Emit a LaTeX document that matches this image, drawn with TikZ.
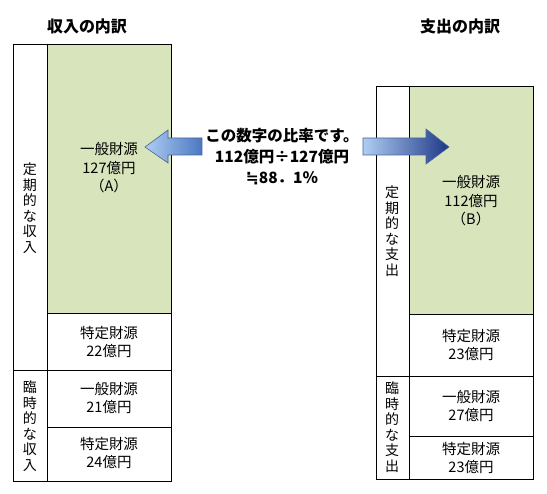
\documentclass[tikz,border=0pt]{standalone}
\usepackage{fontspec}
\setmainfont{Noto Sans CJK JP}
\newfontfamily\dejavufam{DejaVu Sans}
\definecolor{greenfill}{RGB}{216,228,188}
\definecolor{arrowedge}{RGB}{70,100,150}
\definecolor{lightblue}{RGB}{175,205,242}
\definecolor{midblue}{RGB}{75,120,195}
\definecolor{darkblue}{RGB}{30,55,135}
\begin{document}
\begin{tikzpicture}[x=1pt,y=-1pt,
  frame/.style={draw=black, line width=0.8pt},
  celltext/.style={font=\fontsize{14.5}{18.5}\selectfont, align=center, inner sep=0pt},
  vtext/.style={font=\fontsize{14}{15.5}\selectfont, align=center, inner sep=0pt},
  title/.style={font=\fontsize{16}{18}\selectfont\bfseries, inner sep=0pt},
  arrowbody/.style={draw=arrowedge, line width=0.6pt, line join=miter}]
\useasboundingbox (0,0) rectangle (547,494);
% titles
\node[title] (t1) at (87,26) {収入の内訳};
\node[title] (t2) at (460,26) {支出の内訳};
% left table
\fill[greenfill] (47,44) rectangle (171,313);
\draw[frame] (13,44) rectangle (171,481);
\draw[frame] (47,44) -- (47,481);
\draw[frame] (47,313) -- (171,313);
\draw[frame] (13,370) -- (171,370);
\draw[frame] (47,427) -- (171,427);
\node[celltext] (lg) at (109,168) {一般財源\\127億円\\（A）};
\node[celltext] (ls1) at (109,342) {特定財源\\22億円};
\node[celltext] (lg2) at (109,398) {一般財源\\21億円};
\node[celltext] (ls2) at (109,453) {特定財源\\24億円};
\node[vtext] (lv1) at (30,208) {定\\期\\的\\な\\収\\入};
\node[vtext] (lv2) at (30,426) {臨\\時\\的\\な\\収\\入};
% right table
\fill[greenfill] (409,86) rectangle (533,314);
\draw[frame] (376,86) rectangle (533,479);
\draw[frame] (409,86) -- (409,479);
\draw[frame] (409,314) -- (533,314);
\draw[frame] (376,376) -- (533,376);
\draw[frame] (409,436) -- (533,436);
\node[celltext] (rg) at (471,201) {一般財源\\112億円\\（B）};
\node[celltext] (rs1) at (471,345) {特定財源\\23億円};
\node[celltext] (rg2) at (471,406) {一般財源\\27億円};
\node[celltext] (rs2) at (471,458) {特定財源\\23億円};
\node[vtext] (rv1) at (392,231) {定\\期\\的\\な\\支\\出};
\node[vtext] (rv2) at (392,427) {臨\\時\\的\\な\\支\\出};
% arrows
\path[arrowbody, left color=lightblue, right color=midblue]
  (145,147) -- (168,130) -- (168,138) -- (202,138) -- (202,155) -- (168,155) -- (168,163) -- cycle;
\path[arrowbody, left color=lightblue, right color=darkblue]
  (363,138) -- (426,138) -- (426,129) -- (449,147) -- (426,164) -- (426,155) -- (363,155) -- cycle;
% ratio text
\node[font=\fontsize{15.5}{21}\selectfont\bfseries, align=center, inner sep=0pt] (ratio) at (282,157)
  {この数字の比率です。\\112億円÷127億円\\{\dejavufam\bfseries ≒}88．1％};
\end{tikzpicture}
\end{document}
